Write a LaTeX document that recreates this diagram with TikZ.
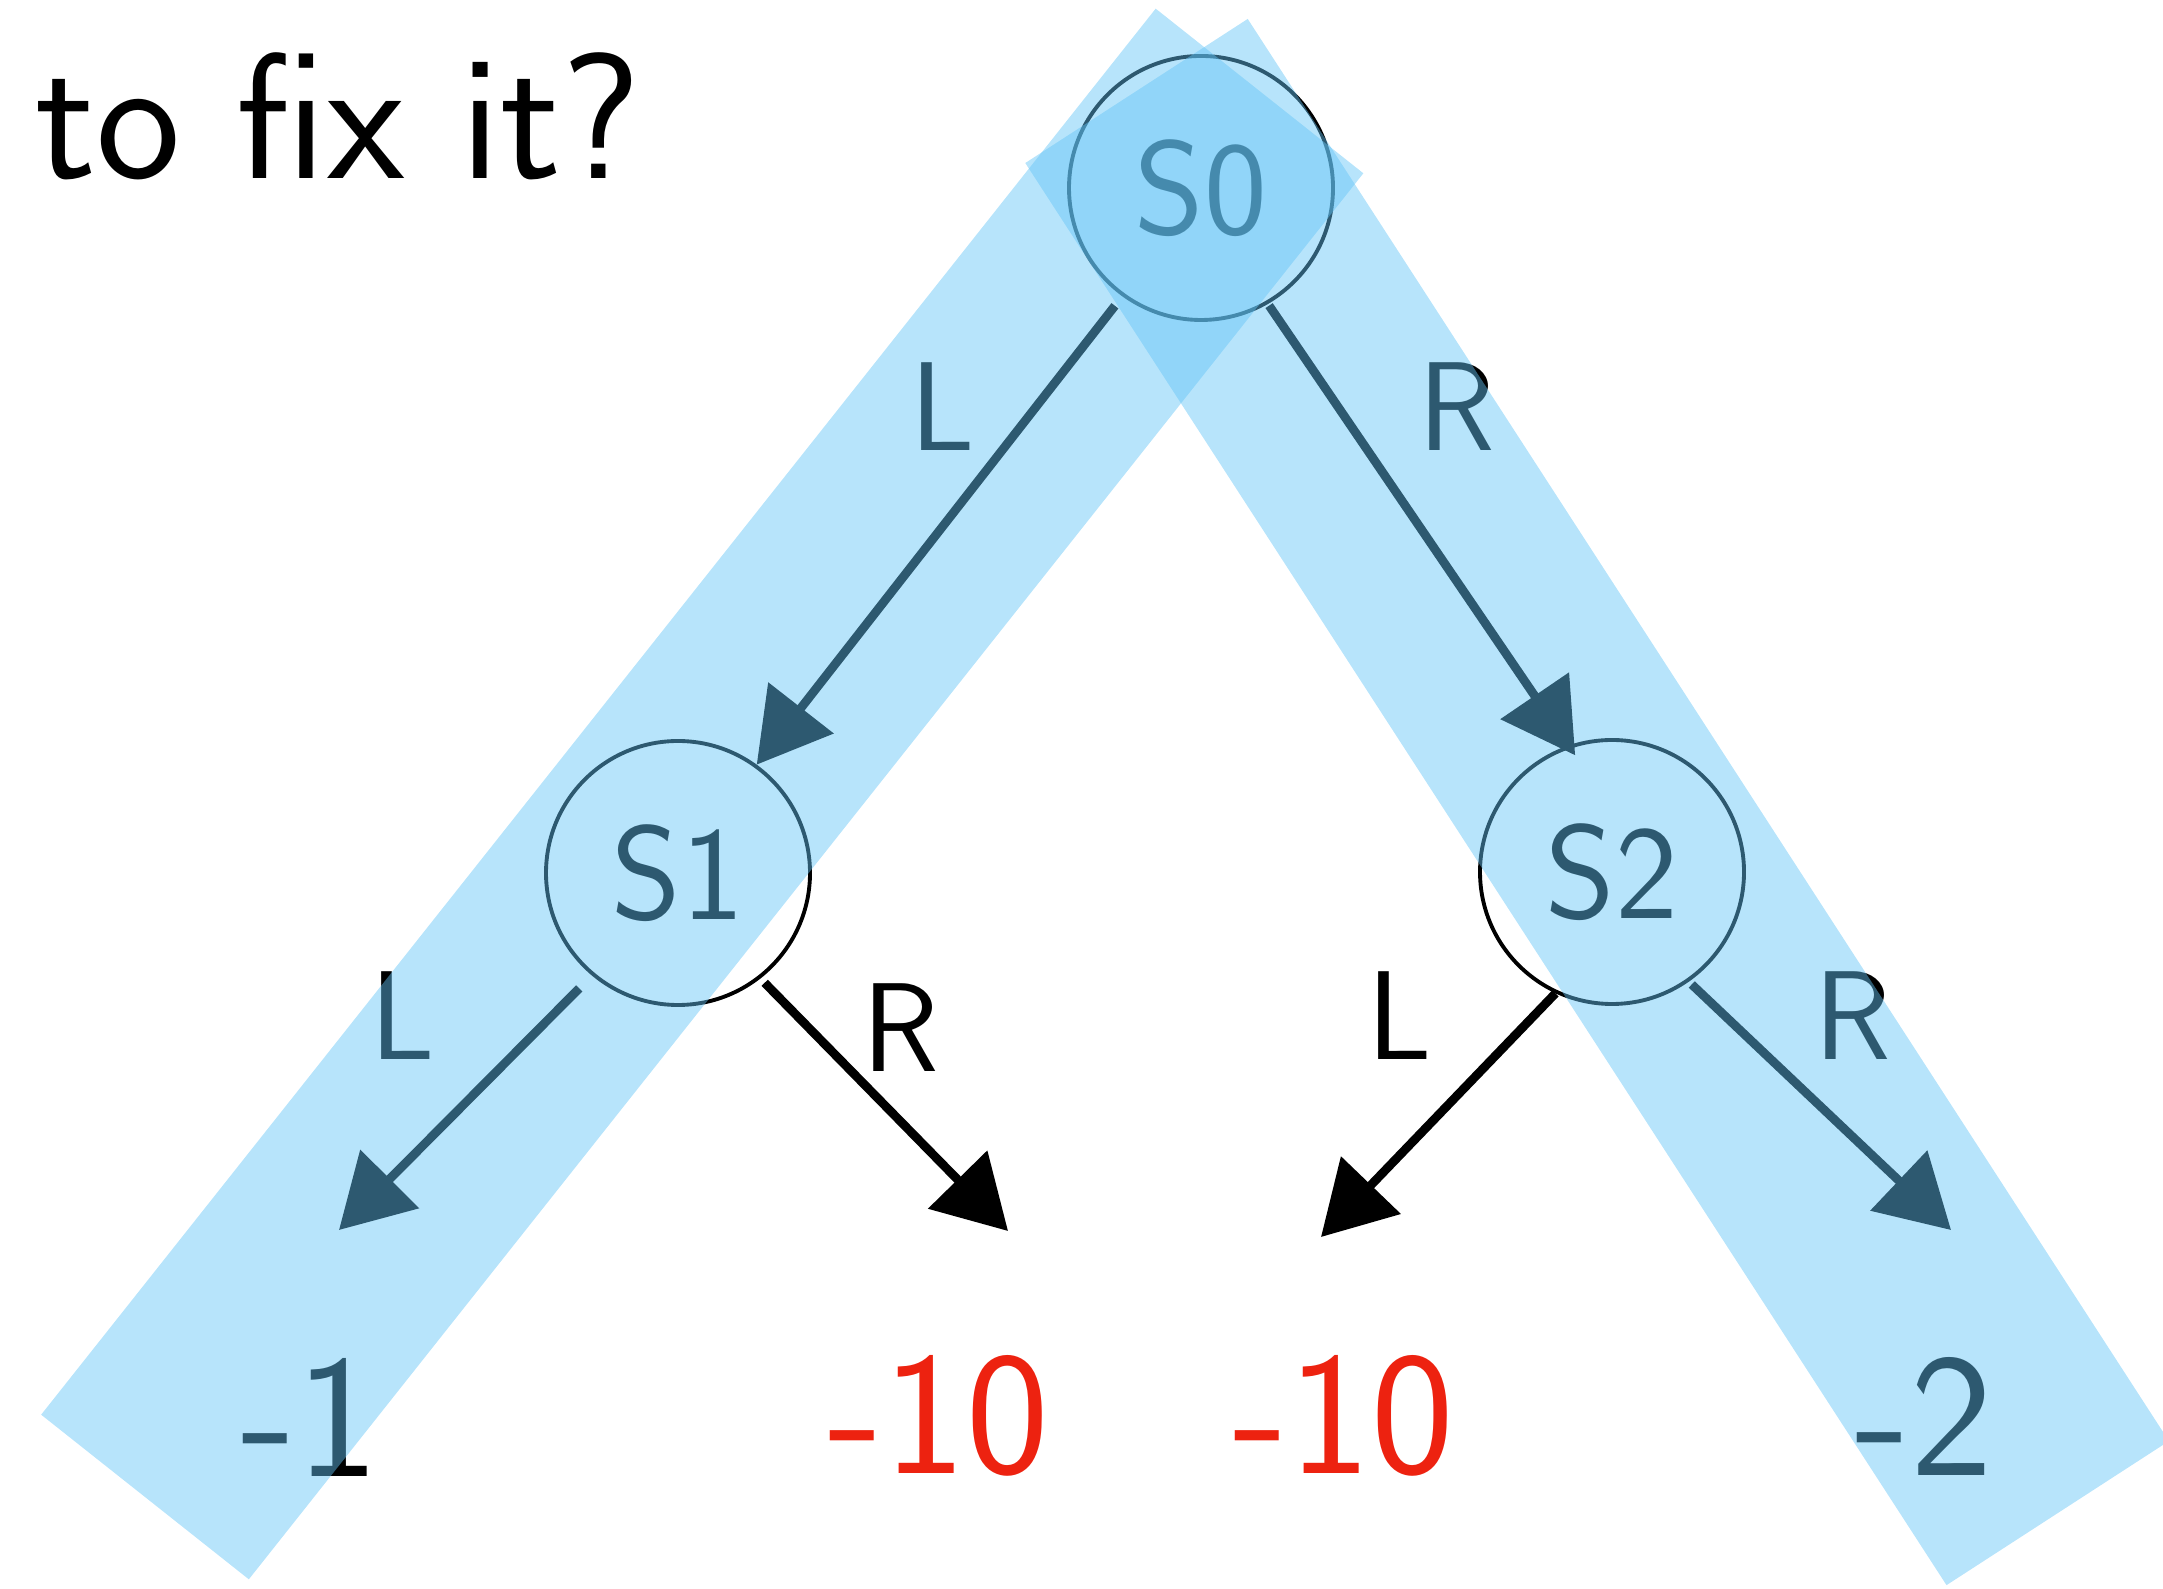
\documentclass[tikz,border=0pt]{standalone}
\usetikzlibrary{arrows.meta}

\definecolor{bandblue}{RGB}{99,196,246}
\definecolor{leafred}{RGB}{237,34,16}

\begin{document}
\begin{tikzpicture}[
        state/.style={circle, draw, line width=1.1pt, minimum size=2.64cm, inner sep=0pt,
            font=\sffamily\fontsize{38}{42}\selectfont},
        act/.style={inner sep=0pt, font=\sffamily\fontsize{36}{40}\selectfont},
        leaf/.style={inner sep=0pt, font=\sffamily\fontsize{50}{58}\selectfont},
        edge/.style={line width=2.5pt, -{Triangle[length=7.2mm, width=8.1mm]}},
        band/.style={bandblue, opacity=0.46, line width=2.65cm}
    ]
    \useasboundingbox (0,0) rectangle (21.63,15.88);

    \node[inner sep=0pt, anchor=base west, font=\sffamily\fontsize{51}{60}\selectfont]
        (question) at (0.35,14.09) {to fix it?};

    % states
    \node[state] (S0) at (12.01,14.00) {S0};
    \node[state] (S1) at (6.78,7.15) {S1};
    \node[state] (S2) at (16.12,7.16) {S2};

    % rewards
    \node[leaf] (r1) at (3.10,1.71) {-1};
    \node[leaf, text=leafred] (r2) at (9.39,1.72) {-10};
    \node[leaf, text=leafred] (r3) at (13.44,1.72) {-10};
    \node[leaf] (r4) at (19.24,1.72) {-2};

    \coordinate (t1) at (3.39,3.58);
    \coordinate (t2) at (10.08,3.57);
    \coordinate (t3) at (13.21,3.51);
    \coordinate (t4) at (19.51,3.58);

    \draw[edge, shorten <=0.12cm] (S0.234) -- (S1.54);
    \draw[edge, shorten <=0.02cm, shorten >=-0.12cm] (S0.300) -- (S2.109);
    \draw[edge, shorten <=0.18cm] (S1.230) -- (t1);
    \draw[edge, shorten <=0.06cm] (S1.308) -- (t2);
    \draw[edge] (S2.245) -- (t3);
    \draw[edge, shorten <=0.04cm] (S2.305) -- (t4);

    \node[act] (a0) at (9.43,11.81) {L};
    \node[act] (b0) at (14.57,11.81) {R};
    \node[act] (a1) at (4.03,5.72) {L};
    \node[act] (b1) at (9.01,5.60) {R};
    \node[act] (a2) at (14.00,5.72) {L};
    \node[act] (b2) at (18.53,5.72) {R};

    % highlighted paths
    \draw[band] (12.595,14.97) -- (1.45,0.91);
    \draw[band] (11.365,14.97) -- (20.577,0.749);
\end{tikzpicture}
\end{document}
